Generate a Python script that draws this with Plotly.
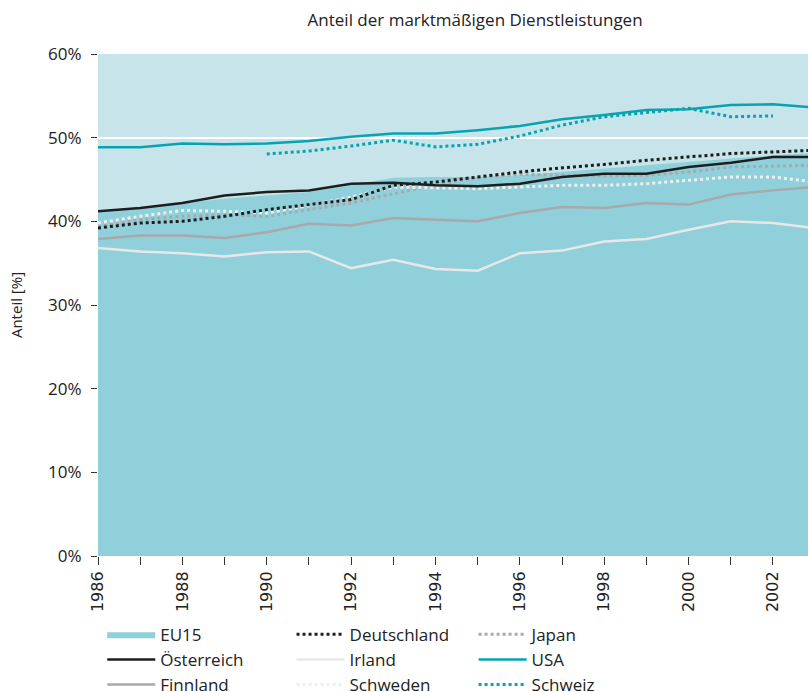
import plotly.graph_objects as go

years = list(range(1986, 2004))
eu15 = [41.2, 41.7, 42.2, 42.7, 43.1, 43.5, 44.3, 45.2, 45.3, 45.3, 45.5, 45.9, 46.3, 46.7, 47.1, 47.5, 47.9, 48.2]
oesterreich = [41.2, 41.6, 42.2, 43.1, 43.5, 43.7, 44.5, 44.6, 44.3, 44.2, 44.5, 45.3, 45.7, 45.7, 46.5, 47.0, 47.7, 47.7]
finnland = [37.9, 38.3, 38.3, 38.0, 38.7, 39.7, 39.5, 40.4, 40.2, 40.0, 41.0, 41.7, 41.6, 42.2, 42.0, 43.2, 43.7, 44.1]
deutschland = [39.2, 39.8, 40.0, 40.6, 41.4, 42.0, 42.6, 44.3, 44.7, 45.3, 45.9, 46.4, 46.8, 47.3, 47.7, 48.1, 48.3, 48.5]
irland = [36.8, 36.4, 36.2, 35.8, 36.3, 36.4, 34.4, 35.4, 34.3, 34.1, 36.2, 36.5, 37.6, 37.9, 39.0, 40.0, 39.8, 39.2]
schweden = [39.8, 40.6, 41.3, 41.2, 41.0, 41.9, 42.9, 44.1, 44.0, 43.9, 44.1, 44.3, 44.3, 44.5, 44.9, 45.3, 45.3, 44.7]
japan = [39.4, 40.2, 40.6, 40.8, 40.6, 41.4, 42.2, 43.3, 44.3, 45.3, 45.6, 45.5, 45.4, 45.5, 45.9, 46.5, 46.6, 46.7]
usa = [48.85, 48.85, 49.3, 49.2, 49.3, 49.6, 50.1, 50.5, 50.5, 50.9, 51.4, 52.2, 52.7, 53.3, 53.4, 53.9, 54.0, 53.6]
schweiz_years = list(range(1990, 2003))
schweiz = [48.05, 48.4, 49.0, 49.7, 48.9, 49.2, 50.2, 51.5, 52.5, 53.0, 53.5, 52.5, 52.6]

y_ticks = [0, 10, 20, 30, 40, 50, 60]

BG = "#c6e4ea"
FILL = "#90d0da"
TEAL = "#08a3b1"
BLACK = "#1e1e1e"
GREY = "#a9a9ab"
IRL = "#e8e8e8"
SWE = "#efefef"
FONT = "Open Sans"

fig = go.Figure()
fig.add_trace(go.Scatter(x=years, y=eu15, name="EU15", mode="lines", fill="tozeroy",
                         fillcolor=FILL, line=dict(width=0, color=FILL), legend="legend", legendrank=1))
fig.add_trace(go.Scatter(x=years, y=irland, name="Irland", mode="lines",
                         line=dict(color=IRL, width=2.5), legend="legend2", legendrank=2))
fig.add_trace(go.Scatter(x=years, y=finnland, name="Finnland", mode="lines",
                         line=dict(color=GREY, width=2.5), legend="legend", legendrank=3))
fig.add_trace(go.Scatter(x=years, y=japan, name="Japan", mode="lines",
                         line=dict(color=GREY, width=3, dash="dot"), legend="legend3", legendrank=1))
fig.add_trace(go.Scatter(x=years, y=schweden, name="Schweden", mode="lines",
                         line=dict(color=SWE, width=3, dash="dot"), legend="legend2", legendrank=3))
fig.add_trace(go.Scatter(x=years, y=deutschland, name="Deutschland", mode="lines",
                         line=dict(color=BLACK, width=3, dash="dot"), legend="legend2", legendrank=1))
fig.add_trace(go.Scatter(x=years, y=oesterreich, name="Österreich", mode="lines",
                         line=dict(color=BLACK, width=2.5), legend="legend", legendrank=2))
fig.add_trace(go.Scatter(x=schweiz_years, y=schweiz, name="Schweiz", mode="lines",
                         line=dict(color=TEAL, width=3, dash="dot"), legend="legend3", legendrank=3))
fig.add_trace(go.Scatter(x=years, y=usa, name="USA", mode="lines",
                         line=dict(color=TEAL, width=2.5), legend="legend3", legendrank=2))

legend_common = dict(orientation="v", yanchor="top", xanchor="left", y=-0.121,
                     font=dict(family=FONT, size=17, color="#222"), itemwidth=48,
                     bgcolor="rgba(0,0,0,0)", traceorder="normal")

fig.update_layout(
    width=808, height=692,
    margin=dict(l=98, r=0, t=54, b=136, autoexpand=False),
    paper_bgcolor="white", plot_bgcolor=BG,
    font=dict(family=FONT, size=16, color="#222"),
    title=dict(text="Anteil der marktmäßigen Dienstleistungen", x=0.588, xanchor="center",
               y=0.971, yanchor="middle", font=dict(family=FONT, size=17, color="#222")),
    legend=dict(x=0.006, **legend_common),
    legend2=dict(x=0.2726, **legend_common),
    legend3=dict(x=0.529, **legend_common),
    showlegend=True,
)
fig.update_xaxes(range=[1986, 2002.83], tick0=1986, dtick=2, ticks="outside", ticklen=8,
                 tickcolor="#333", tickangle=-90, showgrid=False, zeroline=False, automargin=False,
                 tickfont=dict(family="DejaVu Sans", size=16, color="#222"),
                 minor=dict(dtick=1, tick0=1986, ticks="outside", ticklen=8, tickcolor="#333", showgrid=False))
fig.update_yaxes(range=[0, 60], tickvals=y_ticks, ticktext=[f"{v}%" for v in y_ticks],
                 ticks="outside", ticklen=6, tickcolor="#333", showgrid=True, gridcolor="white",
                 gridwidth=1.5, zeroline=False, automargin=False, ticklabelstandoff=6,
                 title=dict(text="Anteil [%]", font=dict(family=FONT, size=15, color="#222"), standoff=21),
                 tickfont=dict(family=FONT, size=17, color="#222"))

fig.write_html("out.html", config={"displayModeBar": False},
               post_script="document.body.style.margin='0';")
